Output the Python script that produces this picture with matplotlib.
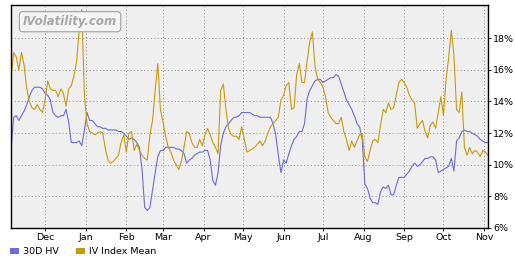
import matplotlib
matplotlib.use("Agg")
import matplotlib.pyplot as plt
import matplotlib.dates as mdates
from matplotlib.patches import Patch
import pandas as pd

# dates: one reading every 2 days, Nov 2010 - Nov 2011
dates = pd.date_range("2010-11-05", periods=183, freq="2D")

hv_30d = [
    10.9, 13.0, 13.1, 12.8, 13.1, 13.4, 13.8, 14.3, 14.7, 14.9,
    14.9, 14.9, 14.8, 14.5, 14.4, 14.1, 13.3, 13.1, 13.0, 13.1,
    13.1, 13.5, 12.7, 11.4, 11.4, 11.4, 11.5, 11.2, 12.2, 13.3,
    12.8, 12.8, 12.6, 12.4, 12.4, 12.3, 12.3, 12.2, 12.2, 12.2,
    12.2, 12.1, 12.1, 12.0, 11.8, 11.6, 11.7, 11.6, 11.4, 11.1,
    9.7, 7.3, 7.1, 7.3, 8.4, 9.5, 10.5, 10.9, 10.9, 11.1,
    11.1, 11.1, 11.1, 11.0, 11.0, 10.9, 10.7, 10.1, 10.3, 10.4,
    10.6, 10.7, 10.8, 10.8, 10.9, 10.9, 10.3, 9.0, 8.7, 9.5,
    11.2, 12.0, 12.4, 12.6, 12.8, 13.0, 13.0, 13.1, 13.3, 13.3,
    13.3, 13.3, 13.2, 13.1, 13.1, 13.0, 13.0, 13.0, 13.0, 13.0,
    12.6, 11.9, 10.6, 9.5, 10.3, 10.1, 10.7, 11.2, 11.6, 11.8,
    12.1, 12.1, 12.6, 14.2, 14.7, 15.0, 15.3, 15.4, 15.4, 15.2,
    15.3, 15.4, 15.5, 15.5, 15.7, 15.6, 15.1, 14.6, 14.1, 13.8,
    13.5, 13.1, 12.6, 12.4, 11.6, 8.8, 8.5, 7.9, 7.6, 7.6,
    7.5, 8.3, 8.6, 8.5, 8.7, 8.1, 8.1, 8.7, 9.2, 9.2,
    9.2, 9.4, 9.6, 9.9, 10.1, 9.9, 10.0, 10.2, 10.4, 10.4,
    10.5, 10.5, 10.3, 9.5, 9.6, 9.7, 9.8, 9.9, 10.4, 9.6,
    11.5, 11.7, 12.1, 12.2, 12.1, 12.1, 12.0, 11.9, 11.8, 11.6,
    11.5, 11.4, 11.4,
]

iv_mean = [
    15.4, 17.1, 16.8, 16.0, 17.1, 16.3, 14.8, 14.0, 13.6, 13.5,
    13.8, 13.5, 13.3, 14.1, 15.3, 14.8, 14.7, 14.7, 14.3, 14.8,
    14.5, 13.7, 14.8, 15.0, 15.6, 16.5, 18.5, 19.8, 14.4, 12.6,
    12.1, 12.0, 11.9, 12.0, 12.1, 12.0, 11.0, 10.3, 10.1, 10.2,
    10.4, 10.6, 11.4, 11.9, 10.8, 12.0, 12.1, 10.9, 11.3, 10.9,
    10.6, 10.4, 10.3, 11.9, 12.8, 14.7, 16.4, 13.5, 12.7, 11.8,
    11.1, 10.8, 10.3, 10.0, 9.7, 10.2, 11.1, 12.1, 12.0, 11.4,
    11.1, 11.1, 11.6, 11.2, 11.9, 12.3, 11.9, 11.4, 11.1, 10.7,
    14.7, 15.1, 13.5, 12.3, 11.9, 11.8, 11.8, 11.6, 12.4, 11.6,
    10.8, 10.9, 11.0, 11.1, 11.3, 11.5, 11.2, 11.5, 12.0, 12.4,
    12.6, 12.8, 13.0, 14.1, 14.4, 15.0, 15.2, 13.5, 13.6, 15.7,
    16.4, 15.2, 15.2, 16.6, 17.8, 18.4, 16.2, 15.4, 15.2, 14.9,
    14.3, 13.3, 13.0, 12.8, 12.6, 12.6, 13.0, 12.1, 11.6, 10.9,
    11.5, 11.1, 11.5, 11.9, 11.9, 10.5, 10.2, 10.9, 11.5, 11.6,
    11.4, 12.5, 13.5, 13.3, 13.9, 13.5, 13.6, 14.4, 15.2, 15.4,
    15.2, 14.9, 14.4, 14.1, 13.9, 12.3, 12.6, 12.8, 12.1, 11.7,
    12.5, 12.7, 12.3, 13.3, 14.3, 13.1, 15.4, 16.8, 18.5, 16.9,
    13.5, 13.3, 14.6, 11.1, 10.6, 11.1, 10.7, 10.9, 10.8, 10.5,
    10.9, 10.8, 10.6,
]

y_ticks = [6, 8, 10, 12, 14, 16, 18]
y_labels = ["6%", "8%", "10%", "12%", "14%", "16%", "18%"]
series_names = ["30D HV", "IV Index Mean"]

blue = "#6b6bdd"
gold = "#c89a0a"

fig = plt.figure(figsize=(5.15, 2.56), dpi=100)
ax = fig.add_axes([0.0214, 0.1094, 0.9262, 0.8711])
ax.set_facecolor("#efefef")

ax.plot(dates, hv_30d, color=blue, linewidth=0.8)
ax.plot(dates, iv_mean, color=gold, linewidth=0.8)

ax.set_xlim(dates[0], dates[-1])
ax.set_ylim(6, 20.1)

# month ticks along the bottom
ax.xaxis.set_major_locator(mdates.MonthLocator())
ax.xaxis.set_major_formatter(mdates.DateFormatter("%b"))

# percent labels on the right
ax.yaxis.tick_right()
ax.set_yticks(y_ticks)
ax.set_yticklabels(y_labels)

ax.tick_params(axis="both", labelsize=6.8, length=2, width=0.6, pad=1.5, colors="black")
ax.grid(True, linestyle=(0, (1, 2.5)), color="#8a8a8a", linewidth=0.7)

for side in ["left", "bottom", "top", "right"]:
    ax.spines[side].set_color("black")
    ax.spines[side].set_linewidth(1.0)

# watermark box
ax.text(0.025, 0.925, "IVolatility.com", transform=ax.transAxes,
        fontsize=8.5, fontstyle="italic", fontweight="bold", color="#a8a8a8",
        va="center", ha="left",
        bbox={"boxstyle": "round,pad=0.3", "facecolor": "#f4f4f4",
              "edgecolor": "#a0a0a0", "linewidth": 0.8})

# legend below the chart, square swatches
handles = [Patch(facecolor=blue, edgecolor="none"), Patch(facecolor=gold, edgecolor="none")]
fig.legend(handles=handles, labels=series_names, loc="lower left",
           bbox_to_anchor=(0.003, -0.035), ncol=2, frameon=False,
           fontsize=6.8, handlelength=0.9, handleheight=0.6,
           handletextpad=0.5, columnspacing=1.8)

fig.savefig("out.png", dpi=100)
